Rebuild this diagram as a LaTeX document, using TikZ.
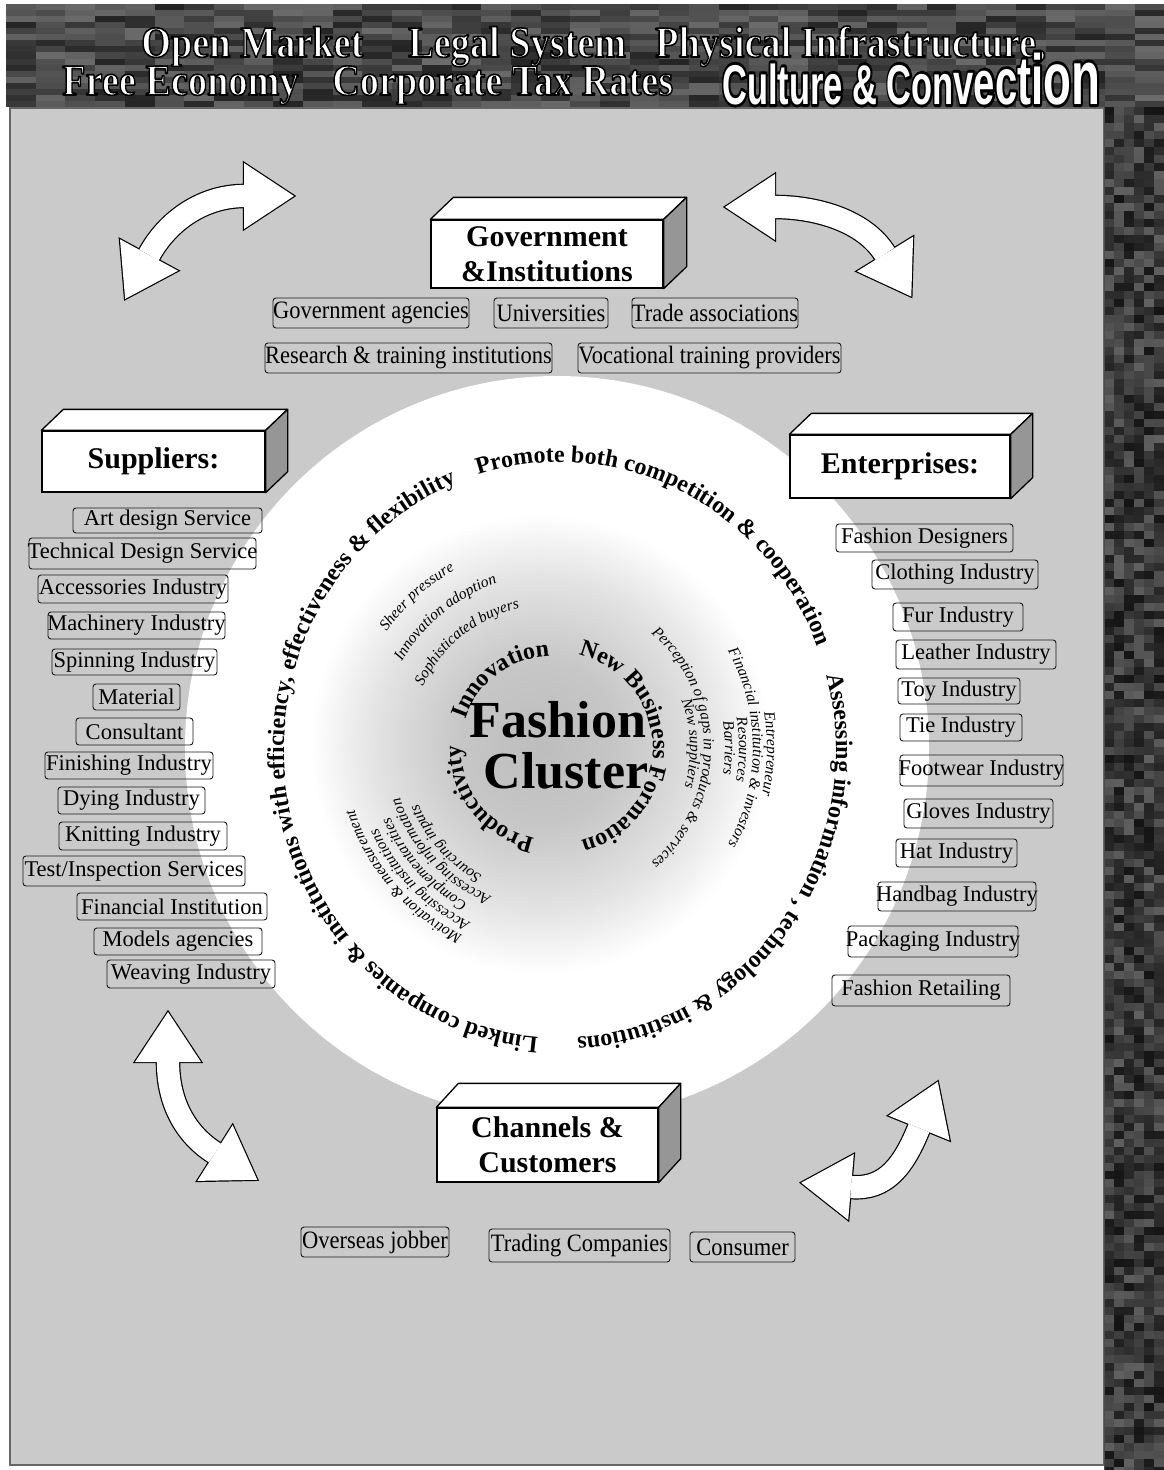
\documentclass[tikz,border=0pt]{standalone}
\usepackage{fontspec}
\setmainfont{Liberation Serif}
\newfontfamily\headsans{Liberation Sans}
\usetikzlibrary{calc,decorations.text}

\definecolor{panelgray}{RGB}{202,202,202}
\definecolor{sidegray}{RGB}{150,150,150}

% type sizes for the captions set along the rings
\newcommand\outerfont{\bfseries\fontsize{24}{24}\selectfont}
\newcommand\ringfont{\bfseries\fontsize{24}{24}\selectfont}
\newcommand\smallit{\itshape\fontsize{15.5}{16}\selectfont}

% lettering drawn in fill-and-stroke text mode with a black rim:
% #1 rim width (bp), #2 text
\newcommand\rimtext[2]{%
  \special{pdf:literal direct 0 G #1 w 1 j 2 Tr}#2\special{pdf:literal direct 0 Tr 0.3985 w}}

% heading whose letters grow towards the end
\newcommand\gradedtitle{%
  {\fontsize{56}{56}\selectfont Culture \& Con}%
  {\fontsize{59}{59}\selectfont v}%
  {\fontsize{62}{62}\selectfont e}%
  {\fontsize{65}{65}\selectfont c}%
  {\fontsize{68}{68}\selectfont t}%
  {\fontsize{71}{71}\selectfont i}%
  {\fontsize{74}{74}\selectfont o}%
  {\fontsize{77}{77}\selectfont n}}

% small labelled frame: name, x1, x2, y1, y2 (pixel rows counted downwards), style, text
\newcommand\itembox[7]{%
  \node[#6, minimum width={(#3-#2)*1pt}, minimum height={(#5-#4)*1pt}] (#1)
    at ({(#2+#3)/2},{-(#4+#5)/2}) {\makebox[\dimexpr #3pt-#2pt\relax]{#7}};}

% raised block: name, x1, x2, y1, y2, depth x, depth y, text
\newcommand\blockbox[8]{%
  \node[blockface, minimum width={(#3-#2)*1pt}, minimum height={(#5-#4)*1pt}] (#1)
    at ({(#2+#3)/2},{-(#4+#5)/2}) {#8};
  \draw[blockedge, fill=white] (#1.north west) -- ++(#6,#7)
    -- ([shift={(#6,#7)}]#1.north east) -- (#1.north east) -- cycle;
  \draw[blockedge, fill=sidegray] (#1.north east) -- ([shift={(#6,#7)}]#1.north east)
    -- ([shift={(#6,#7)}]#1.south east) -- (#1.south east) -- cycle;}

% caption on a circular arc: cx, cy, radius, middle angle, half span, text
\newcommand\ringtext[6]{%
  \path[decorate, decoration={text along path, text align=center, text={#6}}]
    (#1,#2) ++({#4+#5}:#3) arc[start angle={#4+#5}, end angle={#4-#5}, radius=#3];}

% caption on the outer oval: middle angle, half span, text
\newcommand\ovaltext[3]{%
  \path[decorate, decoration={text along path, text align=center, text={#3}}]
    (560,-750) ++({276*cos(#1+#2)},{288*sin(#1+#2)})
    arc[start angle={#1+#2}, end angle={#1-#2}, x radius=276, y radius=288];}

% hollow curved double arrow: start, control 1, control 2, end of the shaft
\newcommand\twoway[4]{%
  \draw[line width=24.6pt] #1 .. controls #2 and #3 .. #4;
  \filldraw[line width=2.4pt, line join=miter]
    ($#1!33pt!90:#2$) -- ($#1!-50pt!#2$) -- ($#1!33pt!-90:#2$) -- cycle;
  \filldraw[line width=2.4pt, line join=miter]
    ($#4!33pt!90:#3$) -- ($#4!-50pt!#3$) -- ($#4!33pt!-90:#3$) -- cycle;
  \draw[white, line width=22.2pt] #1 .. controls #2 and #3 .. #4;
  \fill[white] ($#1!33pt!90:#2$) -- ($#1!-50pt!#2$) -- ($#1!33pt!-90:#2$) -- cycle;
  \fill[white] ($#4!33pt!90:#3$) -- ($#4!-50pt!#3$) -- ($#4!33pt!-90:#3$) -- cycle;}

\pgfdeclareradialshading{coredisc}{\pgfpoint{0bp}{0bp}}{%
  color(0bp)=(black!26); color(9bp)=(black!22); color(18bp)=(black!11);
  color(25bp)=(white); color(50bp)=(white)}

\begin{document}
\begin{tikzpicture}[x=1pt, y=1pt,
  tagbox/.style={draw=black!90, line width=0.9pt, rounded corners=3pt, inner sep=0pt,
    font=\fontsize{22.5}{22.5}\selectfont},
  tagnarrow/.style={tagbox, font=\fontsize{25}{25}\selectfont},
  blockface/.style={draw=black, line width=1.3pt, fill=white, inner sep=0pt, align=center,
    font=\bfseries\fontsize{30}{35}\selectfont},
  blockedge/.style={draw=black, line width=1.3pt, line join=round},
  headtext/.style={text=white, inner sep=0pt, font=\bfseries\fontsize{44}{44}\selectfont},
  centretext/.style={inner sep=0pt, font=\bfseries\fontsize{52}{52}\selectfont},
]
\fill[white] (0,0) rectangle (1164,-1470);
\useasboundingbox (0,0) rectangle (1164,-1470);

% ---------- backgrounds ----------
\fill[panelgray] (10,-108) rectangle (1104,-1465);
\draw[black!60, line width=1.2pt] (10,-108) rectangle (1104,-1465);

\pgfmathsetseed{42}
% mottled heading band
\fill[black!72] (6,-4) rectangle (1164,-107);
\foreach \i in {0,...,38}{\foreach \j in {0,...,16}{%
  \pgfmathsetmacro{\g}{58+28*rnd}
  \fill[black!\g] ({6+\i*29.7},{-4-\j*6.06}) rectangle ++(29.8,-6.1);}}
% mottled strip on the right
\foreach \i in {0,...,5}{\foreach \j in {0,...,170}{%
  \pgfmathsetmacro{\g}{62+30*rnd}
  \fill[black!\g] ({1104+\i*10},{-107-\j*8}) rectangle ++(10.1,-8.1);}}
\draw[black!70, line width=1pt] (1104,-107) -- (1104,-1470);

% ---------- heading ----------
\node[headtext, anchor=base west] (hOpen) at (141,-57)
  {\scalebox{0.87}[1]{\rimtext{1.6}{Open Market}}};
\node[headtext, anchor=base west] (hLegal) at (408,-57)
  {\scalebox{0.87}[1]{\rimtext{1.6}{Legal System}}};
\node[headtext, anchor=base west] (hPhys) at (655,-57)
  {\scalebox{0.87}[1]{\rimtext{1.6}{Physical Infrastructure,}}};
\node[headtext, anchor=base west] (hFree) at (62,-95)
  {\scalebox{0.87}[1]{\rimtext{1.6}{Free Economy}}};
\node[headtext, anchor=base west] (hTax) at (332,-95)
  {\scalebox{0.87}[1]{\rimtext{1.6}{Corporate Tax Rates}}};
% black rim first, plain white letters on top
\node[text=black, inner sep=0pt, anchor=base west] (hCultureRim) at (722,-104)
  {\scalebox{0.615}[1]{\headsans\bfseries\rimtext{6}{\gradedtitle}}};
\node[text=white, inner sep=0pt, anchor=base west] (hCulture) at (722,-104)
  {\scalebox{0.615}[1]{\headsans\bfseries\gradedtitle}};

% ---------- central rings ----------
\fill[white] (557,-748) circle[radius=372];
\shade[shading=coredisc] (540,-744) circle[radius=230];

\ovaltext{64.4}{62}{|\outerfont|Promote both competition {\&} cooperation}
\ovaltext{-36}{66}{|\outerfont|Assessing information , technology {\&} institutions}
\ovaltext{188.8}{86}{|\outerfont|Linked companies {\&} institutions with efficiency, effectiveness {\&} flexibility}

\ringtext{553}{-748}{92}{127}{55}{|\ringfont|Innovation}
\ringtext{558}{-748}{95}{0.7}{95}{|\ringfont|New Business Formation}
\ringtext{553}{-748}{92}{218.5}{55}{|\ringfont|Productivity}

\ringtext{553}{-748}{203}{132}{30}{|\smallit|Sheer pressure}
\ringtext{553}{-748}{174}{129.5}{35}{|\smallit|Innovation adoption}
\ringtext{553}{-748}{144}{129}{40}{|\smallit|Sophisticated buyers}

\ringtext{553}{-748}{146}{221.7}{35}{|\smallit|Sourcing inputs}
\ringtext{553}{-748}{161}{222.7}{40}{|\smallit|Accessing information}
\ringtext{553}{-748}{177}{222}{40}{|\smallit|Complementarities}
\ringtext{553}{-748}{193}{224.6}{40}{|\smallit|Accessing institutions}
\ringtext{553}{-748}{208}{220.7}{40}{|\smallit|Motivation {\&} measurement}

\ringtext{553}{-748}{137}{2}{40}{|\smallit|New suppliers}
\ringtext{553}{-748}{151}{0}{60}{|\smallit|Perception of gaps in products {\&} services}
\ringtext{553}{-748}{172}{0}{30}{|\smallit|Barriers}
\ringtext{553}{-748}{186}{-0.5}{30}{|\smallit|Resources}
\ringtext{553}{-748}{200}{0}{40}{|\smallit|Financial institution {\&} investors}
\ringtext{553}{-748}{214}{-1.5}{30}{|\smallit|Entrepreneur}

\node[centretext, anchor=base] (fashion) at (558,-737) {Fashion};
\node[centretext, anchor=base] (cluster) at (566,-788) {Cluster};

% ---------- government & institutions ----------
\blockbox{gov}{431}{663}{220}{288}{23}{22}{Government\\\&Institutions}
\itembox{gAgency}{273}{469}{298}{328}{tagnarrow}{\scalebox{0.9}[1]{Government agencies}}
\itembox{gUniv}{494}{608}{298}{328}{tagnarrow}{\scalebox{0.9}[1]{Universities}}
\itembox{gTrade}{632}{798}{298}{328}{tagnarrow}{\scalebox{0.9}[1]{Trade associations}}
\itembox{gResearch}{265}{552}{343}{373}{tagnarrow}{\scalebox{0.9}[1]{Research \& training institutions}}
\itembox{gVocational}{578}{841}{343}{373}{tagnarrow}{\scalebox{0.9}[1]{Vocational training providers}}

% ---------- suppliers ----------
\blockbox{sup}{42}{265}{431}{492}{22}{21}{Suppliers:}
\itembox{sArt}{73}{262}{508}{533}{tagbox}{Art design Service}
\itembox{sTech}{29}{256}{538}{569}{tagbox}{Technical Design Service}
\itembox{sAcc}{38}{228}{575}{603}{tagbox}{Accessories Industry}
\itembox{sMach}{48}{225}{612}{639}{tagbox}{Machinery Industry}
\itembox{sSpin}{52}{217}{649}{675}{tagbox}{Spinning Industry}
\itembox{sMat}{93}{180}{684}{710}{tagbox}{Material}
\itembox{sCons}{76}{193}{718}{745}{tagbox}{Consultant}
\itembox{sFinish}{45}{213}{752}{779}{tagbox}{Finishing Industry}
\itembox{sDye}{58}{205}{787}{814}{tagbox}{Dying Industry}
\itembox{sKnit}{59}{227}{822}{850}{tagbox}{Knitting Industry}
\itembox{sTest}{23}{245}{856}{886}{tagbox}{Test/Inspection Services}
\itembox{sFinance}{77}{267}{893}{920}{tagbox}{Financial Institution}
\itembox{sModels}{94}{262}{928}{955}{tagbox}{Models agencies}
\itembox{sWeave}{107}{275}{960}{988}{tagbox}{Weaving Industry}

% ---------- enterprises ----------
\blockbox{ent}{790}{1010}{435}{498}{22}{21}{Enterprises:}
\itembox{eDesign}{836}{1013}{524}{552}{tagbox}{Fashion Designers}
\itembox{eCloth}{872}{1038}{560}{589}{tagbox}{Clothing Industry}
\itembox{eFur}{893}{1023}{603}{631}{tagbox}{Fur Industry}
\itembox{eLeather}{896}{1056}{640}{669}{tagbox}{Leather Industry}
\itembox{eToy}{898}{1020}{678}{704}{tagbox}{Toy Industry}
\itembox{eTie}{900}{1022}{714}{741}{tagbox}{Tie Industry}
\itembox{eFoot}{900}{1063}{755}{786}{tagbox}{Footwear Industry}
\itembox{eGlove}{904}{1053}{799}{828}{tagbox}{Gloves Industry}
\itembox{eHat}{896}{1017}{839}{867}{tagbox}{Hat Industry}
\itembox{eBag}{878}{1036}{882}{911}{tagbox}{Handbag Industry}
\itembox{ePack}{848}{1018}{926}{957}{tagbox}{Packaging Industry}
\itembox{eRetail}{832}{1010}{975}{1006}{tagbox}{Fashion Retailing}

% ---------- channels & customers ----------
\blockbox{chan}{437}{658}{1108}{1182}{22}{24}{Channels \&\\Customers}
\itembox{cJobber}{301}{449}{1227}{1257}{tagnarrow}{\scalebox{0.9}[1]{Overseas jobber}}
\itembox{cTrading}{489}{670}{1229}{1262}{tagnarrow}{\scalebox{0.9}[1]{Trading Companies}}
\itembox{cConsumer}{690}{795}{1232}{1262}{tagnarrow}{\scalebox{0.9}[1]{Consumer}}

% ---------- two-way arrows between the four groups ----------
\twoway{(149,-255)}{(168,-220)}{(204,-196)}{(244,-196)}
\twoway{(885,-254)}{(864,-220)}{(815,-207)}{(775,-207)}
\twoway{(168,-1062)}{(168,-1102)}{(185,-1134)}{(215,-1153)}
\twoway{(919,-1128)}{(904,-1165)}{(886,-1190)}{(851,-1187)}
\end{tikzpicture}
\end{document}
